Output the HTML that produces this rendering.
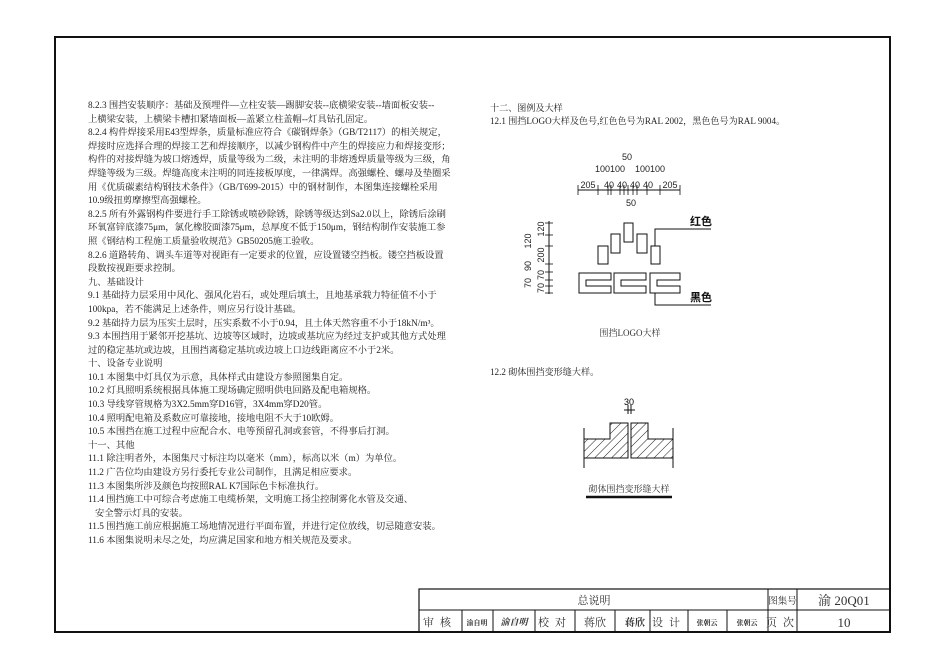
<!DOCTYPE html>
<html><head><meta charset="utf-8"><style>
html,body{margin:0;padding:0;background:#fff;}
body{width:945px;height:665px;position:relative;overflow:hidden;font-family:"Liberation Serif","Noto Serif CJK SC","Noto Sans CJK SC",serif;color:#222;}
.t{position:absolute;left:88px;font-size:9.3px;line-height:13.6px;white-space:nowrap;}
.r{position:absolute;font-size:9.1px;white-space:nowrap;}
svg{position:absolute;left:0;top:0;}
</style></head><body>
<svg width="945" height="665" viewBox="0 0 945 665" font-family="Liberation Serif, Noto Serif CJK SC, serif">
<defs>
<pattern id="h" width="6" height="6" patternUnits="userSpaceOnUse" patternTransform="rotate(45)"><line x1="0" y1="0" x2="0" y2="6" stroke="#222" stroke-width="1"/></pattern>
</defs>
<rect x="55" y="37" width="835" height="595" fill="none" stroke="#111" stroke-width="2"/>
<g stroke="#111" stroke-width="1" fill="none">
<rect x="419" y="589" width="471" height="43" stroke-width="1.2"/>
<line x1="419" y1="610" x2="890" y2="610"/>
<line x1="768" y1="589" x2="768" y2="632"/>
<line x1="797" y1="589" x2="797" y2="632"/>
<line x1="462" y1="610" x2="462" y2="632"/>
<line x1="493" y1="610" x2="493" y2="632"/>
<line x1="535" y1="610" x2="535" y2="632"/>
<line x1="575" y1="610" x2="575" y2="632"/>
<line x1="615" y1="610" x2="615" y2="632"/>
<line x1="650" y1="610" x2="650" y2="632"/>
<line x1="688" y1="610" x2="688" y2="632"/>
<line x1="727" y1="610" x2="727" y2="632"/>
</g>
<line x1="419" y1="632" x2="890" y2="632" stroke="#111" stroke-width="2"/>
<g font-size="11" fill="#333" text-anchor="middle">
<text x="594" y="604">总说明</text>
<text x="782.5" y="604" font-size="9.5">图集号</text>
<text x="844" y="605" font-size="13">渝 20Q01</text>
<text x="440" y="626" letter-spacing="6">审核</text>
<text x="555" y="626" letter-spacing="6">校对</text>
<text x="595" y="626">蒋欣</text>
<text x="669" y="626" letter-spacing="6">设计</text>
<text x="783" y="626" letter-spacing="6">页次</text>
<text x="844" y="627" font-size="13">10</text>
<text x="477" y="625" font-size="7" font-weight="bold">渝自明</text>
<text x="514" y="625" font-size="9" font-style="italic" font-weight="bold">渝自明</text>
<text x="635" y="626" font-size="10" font-weight="bold">蒋欣</text>
<text x="707" y="625" font-size="7" font-weight="bold">张朝云</text>
<text x="747" y="625" font-size="7" font-weight="bold">张朝云</text>
</g>
<g stroke="#111" stroke-width="1" fill="none">
<line x1="578" y1="190" x2="680" y2="190"/>
<g stroke-width="0.8">
<line x1="578" y1="185" x2="578" y2="195"/><line x1="598" y1="185" x2="598" y2="195"/><line x1="608" y1="185" x2="608" y2="195"/><line x1="611" y1="185" x2="611" y2="195"/><line x1="620" y1="185" x2="620" y2="195"/><line x1="624" y1="185" x2="624" y2="195"/><line x1="628" y1="185" x2="628" y2="195"/><line x1="633" y1="185" x2="633" y2="195"/><line x1="637" y1="185" x2="637" y2="195"/><line x1="647" y1="185" x2="647" y2="195"/><line x1="660" y1="185" x2="660" y2="195"/><line x1="680" y1="185" x2="680" y2="195"/>
</g>
<line x1="549" y1="221" x2="549" y2="294"/>
<g stroke-width="0.8">
<line x1="545" y1="223" x2="553" y2="223"/><line x1="545" y1="235" x2="553" y2="235"/><line x1="545" y1="246" x2="553" y2="246"/><line x1="545" y1="264" x2="553" y2="264"/><line x1="545" y1="272" x2="553" y2="272"/><line x1="545" y1="280" x2="553" y2="280"/><line x1="545" y1="286" x2="553" y2="286"/><line x1="545" y1="293" x2="553" y2="293"/>
</g>
<rect x="598" y="246" width="10" height="18"/>
<rect x="611" y="234" width="9" height="19"/>
<rect x="624" y="223" width="9" height="19"/>
<rect x="637" y="234" width="10" height="19"/>
<rect x="651" y="246" width="9" height="18"/>
<path d="M579 273H611V280H586V286H611V293H579Z"/>
<path d="M614 273H646V280H621V286H646V293H614Z"/>
<path d="M650 273H680V280H657V286H680V293H650Z"/>
<polyline points="655,246 655,229 711,229"/>
<polyline points="655,293 655,305 711,305"/>
</g>
<g font-size="9" fill="#222" text-anchor="middle" font-family="Liberation Sans, sans-serif">
<text x="627" y="160">50</text>
<text x="610" y="172">100100</text>
<text x="650" y="172">100100</text>
<text x="588" y="188">205</text><text x="609" y="188">40</text><text x="622" y="188">40</text><text x="635" y="188">40</text><text x="648" y="188">40</text><text x="670" y="188">205</text>
<text x="631" y="206">50</text>
<g transform="rotate(-90)">
<text x="-229" y="544">120</text><text x="-255" y="544">200</text><text x="-275" y="544">70</text><text x="-288" y="544">70</text>
<text x="-241" y="531">120</text><text x="-266" y="531">90</text><text x="-283" y="531">70</text>
</g>
</g>
<g font-size="11" fill="#111" font-weight="bold" font-family="Noto Sans CJK SC, sans-serif">
<text x="690" y="225">红色</text><text x="690" y="301">黑色</text>
</g>
<text x="630" y="336" font-size="9" text-anchor="middle" fill="#333">围挡LOGO大样</text>
<g stroke="#111" stroke-width="1">
<path d="M584 439H610V423H628V458H584Z" fill="url(#h)"/>
<path d="M673 439H648V423H631V458H673Z" fill="url(#h)"/>
<line x1="584" y1="428" x2="584" y2="468" fill="none"/>
<line x1="673" y1="428" x2="673" y2="468" fill="none"/>
<line x1="628" y1="405" x2="628" y2="414"/><line x1="631" y1="405" x2="631" y2="414"/>
<line x1="624" y1="410" x2="635" y2="410"/>
</g>
<text x="629" y="405" font-size="9" text-anchor="middle" font-family="Liberation Sans, sans-serif">30</text>
<text x="629" y="492" font-size="9" text-anchor="middle" fill="#333">砌体围挡变形缝大样</text>
<line x1="586" y1="497" x2="672" y2="497" stroke="#111" stroke-width="2.5"/>
</svg>
<div class="t" style="top:100px">8.2.3 围挡安装顺序：基础及预埋件—立柱安装—踢脚安装--底横梁安装--墙面板安装--<br>上横梁安装，上横梁卡槽扣紧墙面板—盖紧立柱盖帽--灯具钻孔固定。<br>8.2.4 构件焊接采用E43型焊条，质量标准应符合《碳钢焊条》（GB/T2117）的相关规定，<br>焊接时应选择合理的焊接工艺和焊接顺序，以减少钢构件中产生的焊接应力和焊接变形；<br>构件的对接焊缝为坡口熔透焊，质量等级为二级，未注明的非熔透焊质量等级为三级，角<br>焊缝等级为三级。焊缝高度未注明的同连接板厚度，一律满焊。高强螺栓、螺母及垫圈采<br>用《优质碳素结构钢技术条件》（GB/T699-2015）中的钢材制作，本图集连接螺栓采用<br>10.9级扭剪摩擦型高强螺栓。<br>8.2.5 所有外露钢构件要进行手工除锈或喷砂除锈，除锈等级达到Sa2.0以上，除锈后涂刷<br>环氧富锌底漆75μm，氯化橡胶面漆75μm，总厚度不低于150μm，钢结构制作安装施工参<br>照《钢结构工程施工质量验收规范》GB50205施工验收。<br>8.2.6 道路转角、调头车道等对视距有一定要求的位置，应设置镂空挡板。镂空挡板设置<br>段数按视距要求控制。<br>九、基础设计<br>9.1 基础持力层采用中风化、强风化岩石，或处理后填土，且地基承载力特征值不小于<br>100kpa，若不能满足上述条件，则应另行设计基础。<br>9.2 基础持力层为压实土层时，压实系数不小于0.94，且土体天然容重不小于18kN/m³。<br>9.3 本围挡用于紧邻开挖基坑、边坡等区域时，边坡或基坑应为经过支护或其他方式处理<br>过的稳定基坑或边坡，且围挡离稳定基坑或边坡上口边线距离应不小于2米。<br>十、设备专业说明<br>10.1 本图集中灯具仅为示意，具体样式由建设方参照图集自定。<br>10.2 灯具照明系统根据具体施工现场确定照明供电回路及配电箱规格。<br>10.3 导线穿管规格为3X2.5mm穿D16管，3X4mm穿D20管。<br>10.4 照明配电箱及系数应可靠接地，接地电阻不大于10欧姆。<br>10.5 本围挡在施工过程中应配合水、电等预留孔洞或套管，不得事后打洞。<br>十一、其他<br>11.1 除注明者外，本图集尺寸标注均以毫米（mm），标高以米（m）为单位。<br>11.2 广告位均由建设方另行委托专业公司制作，且满足相应要求。<br>11.3 本图集所涉及颜色均按照RAL K7国际色卡标准执行。<br>11.4 围挡施工中可综合考虑施工电缆桥架，文明施工扬尘控制雾化水管及交通、<br>&nbsp;&nbsp;&nbsp;安全警示灯具的安装。<br>11.5 围挡施工前应根据施工场地情况进行平面布置，并进行定位放线，切忌随意安装。<br>11.6 本图集说明未尽之处，均应满足国家和地方相关规范及要求。</div>
<div class="r" style="left:490px;top:101px">十二、图例及大样</div>
<div class="r" style="left:490px;top:114px">12.1 围挡LOGO大样及色号,红色色号为RAL 2002，黑色色号为RAL 9004。</div>
<div class="r" style="left:490px;top:365px">12.2 砌体围挡变形缝大样。</div>
</body></html>
